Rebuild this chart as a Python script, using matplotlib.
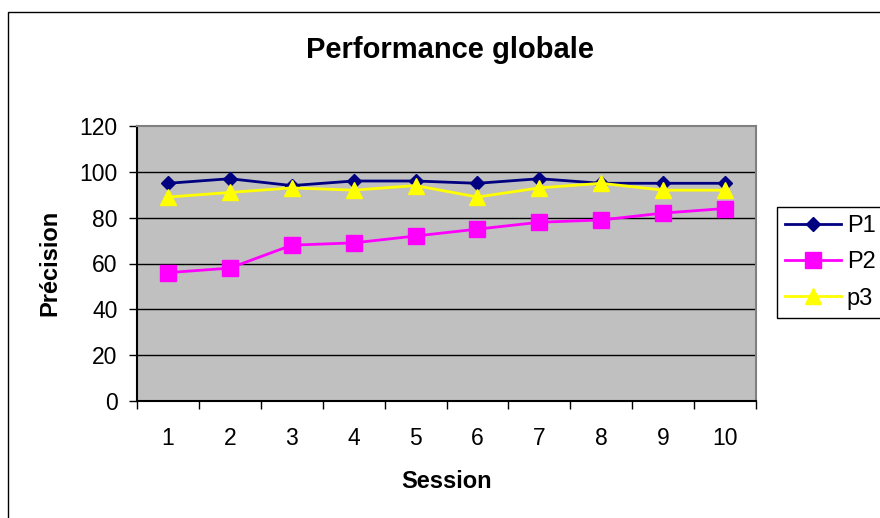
"""Performance globale : précision par session pour P1, P2, p3."""
import matplotlib

matplotlib.use("Agg")
import matplotlib.pyplot as plt  # noqa: E402
from matplotlib.patches import Rectangle  # noqa: E402

plt.rcParams["font.family"] = ["Liberation Sans", "DejaVu Sans"]

sessions = [1, 2, 3, 4, 5, 6, 7, 8, 9, 10]
p1 = [95, 97, 94, 96, 96, 95, 97, 95, 95, 95]
p2 = [56, 58, 68, 69, 72, 75, 78, 79, 82, 84]
p3 = [89, 91, 93, 92, 94, 89, 93, 95, 92, 92]
y_ticks = [0, 20, 40, 60, 80, 100, 120]

W, H = 880, 518
fig = plt.figure(figsize=(W / 100, H / 100), dpi=100)
fig.patch.set_facecolor("white")

# cadre extérieur du graphique (coupé à droite et en bas)
fig.patches.append(Rectangle((8 / W, -0.1), 1.2, 1.1 - 12 / H, transform=fig.transFigure,
                             fill=False, edgecolor="black", linewidth=1.0))

ax = fig.add_axes([137 / W, 1 - 401 / H, (756 - 137) / W, (401 - 126) / H])
ax.set_facecolor("#C0C0C0")

ax.plot(sessions, p1, color="#000080", marker="D", markersize=7, linewidth=2, label="P1", zorder=3)
ax.plot(sessions, p2, color="#FF00FF", marker="s", markersize=11, linewidth=2, label="P2", zorder=3)
ax.plot(sessions, p3, color="#FFFF00", marker="^", markersize=11, linewidth=2, label="p3", zorder=3)

ax.set_xlim(0.5, 10.5)
ax.set_ylim(0, 120)
ax.set_yticks(y_ticks)
ax.set_xticks(sessions)
ax.set_xticks([s - 0.5 for s in sessions] + [10.5], minor=True)
ax.tick_params(axis="x", which="major", length=0, pad=19, labelsize=16.5)
ax.tick_params(axis="x", which="minor", length=6, width=1, direction="out")
ax.tick_params(axis="y", length=6, width=1, direction="out", pad=8, labelsize=16.5)

for y in y_ticks[1:-1]:
    ax.axhline(y, color="black", linewidth=1, zorder=1)

ax.spines["left"].set_color("black")
ax.spines["bottom"].set_color("black")
ax.spines["top"].set_color("#808080")
ax.spines["right"].set_color("#808080")
for sp in ax.spines.values():
    sp.set_linewidth(1.5)

fig.text(450 / W, 1 - 58 / H, "Performance globale", ha="center", va="baseline",
         fontsize=21, fontweight="bold")
fig.text(446.5 / W, 1 - 488 / H, "Session", ha="center", va="baseline",
         fontsize=17, fontweight="bold")
fig.text(50 / W, 1 - 263 / H, "Précision", ha="center", va="center", rotation=90,
         fontsize=17, fontweight="bold")

leg = ax.legend(loc="upper left", bbox_to_anchor=(777 / W, 1 - 207 / H),
                bbox_transform=fig.transFigure, fontsize=17, frameon=True, fancybox=False,
                edgecolor="black", framealpha=1, borderaxespad=0, handlelength=2.35,
                borderpad=0.35, labelspacing=0.6, handletextpad=0.25)
leg.get_frame().set_linewidth(1)

fig.savefig("out.png", dpi=100)
